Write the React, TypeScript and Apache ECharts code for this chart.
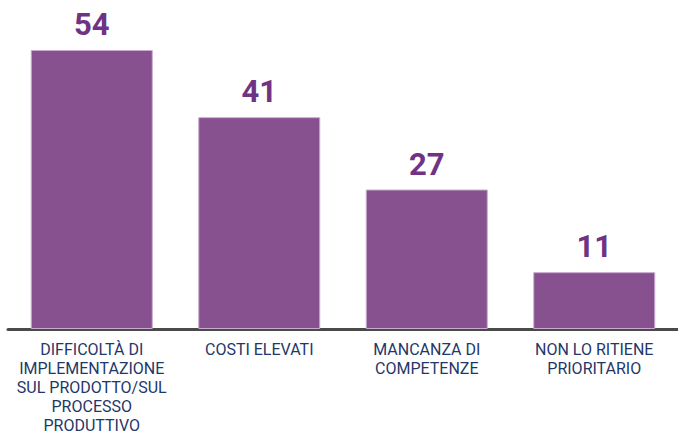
import React, { useEffect, useRef } from "react";
import * as echarts from "echarts";

const categories = [
  "DIFFICOLTÀ DI\nIMPLEMENTAZIONE\nSUL PRODOTTO/SUL\nPROCESSO\nPRODUTTIVO",
  "COSTI ELEVATI",
  "MANCANZA DI\nCOMPETENZE",
  "NON LO RITIENE\nPRIORITARIO",
];
const values = [54, 41, 27, 11];

export default function App() {
  const ref = useRef<HTMLDivElement>(null);
  useEffect(() => {
    const chart = echarts.init(ref.current!, null, { renderer: "svg" });
    chart.setOption({
      animation: false,
      grid: { left: 8, width: 675, top: 19, height: 312, containLabel: false },
      xAxis: {
        type: "category",
        data: categories,
        axisLine: { show: true, lineStyle: { color: "#4a4a4a", width: 3 } },
        axisTick: { show: false },
        axisLabel: {
          interval: 0,
          color: "#1f3769",
          fontFamily: "Roboto",
          fontSize: 16,
          lineHeight: 19,
          margin: 11,
          verticalAlign: "top",
        },
      },
      yAxis: {
        type: "value",
        min: 0,
        max: 60,
        show: false,
        splitLine: { show: false },
      },
      series: [
        {
          type: "bar",
          data: values,
          barWidth: 122,
          itemStyle: { color: "#87508f", borderColor: "#c9abcf", borderWidth: 1 },
          label: {
            show: true,
            position: "top",
            distance: 10,
            color: "#703384",
            fontFamily: "Roboto",
            fontWeight: "bold",
            fontSize: 31,
          },
        },
      ],
    });
    return () => chart.dispose();
  }, []);
  return (
    <div
      ref={ref}
      style={{ position: "absolute", left: 0, top: 0, width: 678, height: 435 }}
    />
  );
}
